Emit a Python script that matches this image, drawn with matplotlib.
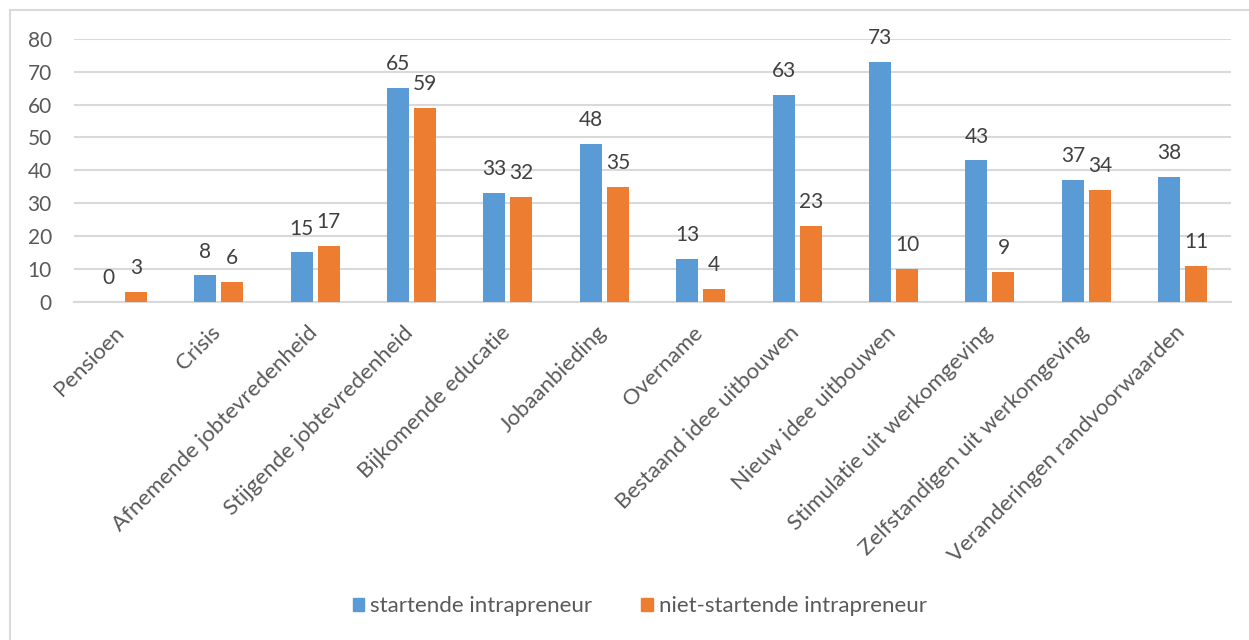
import matplotlib
matplotlib.use("Agg")
import matplotlib.pyplot as plt
import matplotlib.transforms as mtransforms
import numpy as np
from matplotlib.patches import Patch
from matplotlib.lines import Line2D

plt.rcParams['font.family'] = ['Lato', 'DejaVu Sans']

categorieen = ["Pensioen", "Crisis", "Afnemende jobtevredenheid", "Stijgende jobtevredenheid",
               "Bijkomende educatie", "Jobaanbieding", "Overname", "Bestaand idee uitbouwen",
               "Nieuw idee uitbouwen", "Stimulatie uit werkomgeving",
               "Zelfstandigen uit werkomgeving", "Veranderingen randvoorwaarden"]
startend = [0, 8, 15, 65, 33, 48, 13, 63, 73, 43, 37, 38]
niet_startend = [3, 6, 17, 59, 32, 35, 4, 23, 10, 9, 34, 11]
reeksen = ["startende intrapreneur", "niet-startende intrapreneur"]

blauw = '#5B9BD5'
oranje = '#ED7D31'
tekst = '#595959'
raster = '#D9D9D9'

fig = plt.figure(figsize=(12.49, 6.40), dpi=100)
ax = fig.add_axes([0.0593, 0.5286, 0.9263, 0.4105])

x = np.arange(len(categorieen))
breedte = 0.228
b1 = ax.bar(x - 0.14, startend, breedte, color=blauw, zorder=3)
b2 = ax.bar(x + 0.14, niet_startend, breedte, color=oranje, zorder=3)

for bars, waarden in [(b1, startend), (b2, niet_startend)]:
    for bar, w in zip(bars, waarden):
        ax.annotate(str(w), (bar.get_x() + bar.get_width() / 2, bar.get_height()),
                    xytext=(0, 10), textcoords='offset points', ha='center', va='bottom',
                    fontsize=15, color='#404040')

ax.set_xlim(-0.5, len(categorieen) - 0.5)
ax.set_ylim(0, 80)
ax.set_yticks(range(0, 81, 10))
ax.yaxis.grid(True, color=raster, linewidth=1.5, zorder=0)
ax.tick_params(axis='y', length=0, labelsize=15, colors=tekst, pad=16)
ax.tick_params(axis='x', length=0, labelsize=16, colors=tekst, pad=15)
ax.set_xticks(x)
ax.set_xticklabels(categorieen, rotation=45, ha='right', rotation_mode='default')
verschuiving = mtransforms.ScaledTranslation(6 / 100, 0, fig.dpi_scale_trans)
for lbl in ax.get_xticklabels():
    lbl.set_transform(lbl.get_transform() + verschuiving)
for s in ['top', 'right', 'left']:
    ax.spines[s].set_visible(False)
ax.spines['bottom'].set_color(raster)
ax.spines['bottom'].set_linewidth(1.5)

handles = [Patch(color=blauw), Patch(color=oranje)]
fig.legend(handles, reeksen, loc='center', bbox_to_anchor=(0.5124, 0.053), ncol=2,
           frameon=False, fontsize=16, labelcolor=tekst, handlelength=0.5,
           handleheight=0.5, handletextpad=0.3, columnspacing=2.2)

# rand van de grafiek
fig.add_artist(Line2D([9.5 / 1249, 1], [1 - 9.5 / 640, 1 - 9.5 / 640],
                      transform=fig.transFigure, color=raster, linewidth=1.5))
fig.add_artist(Line2D([9.5 / 1249, 9.5 / 1249], [0, 1 - 9.5 / 640],
                      transform=fig.transFigure, color=raster, linewidth=1.5))

fig.savefig('out.png', dpi=100)
